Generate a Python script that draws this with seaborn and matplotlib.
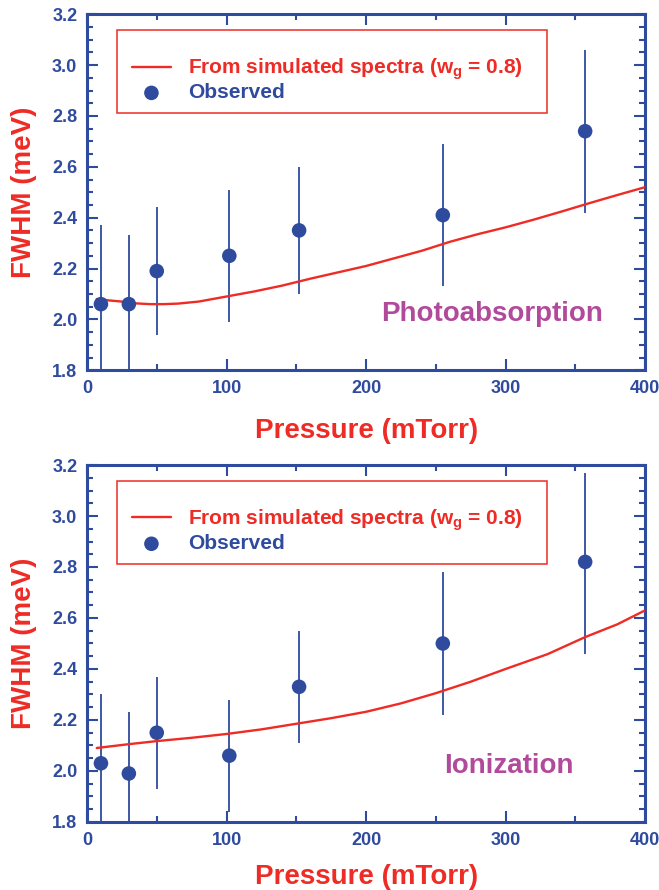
import matplotlib
matplotlib.use("Agg")
import matplotlib.pyplot as plt
import seaborn as sns
import pandas as pd
from matplotlib.patches import Rectangle
from matplotlib.ticker import MultipleLocator, FormatStrFormatter

# observed pressures (mTorr)
pressure = [10, 30, 50, 102, 152, 255, 357]

# photoabsorption panel
photo_fwhm = [2.06, 2.06, 2.19, 2.25, 2.35, 2.41, 2.74]
photo_low = [1.75, 1.75, 1.94, 1.99, 2.10, 2.13, 2.42]
photo_high = [2.37, 2.33, 2.44, 2.51, 2.60, 2.69, 3.06]
photo_curve_x = [7, 15, 25, 35, 45, 55, 65, 80, 100, 120, 140, 160, 180,
                 200, 220, 240, 260, 280, 300, 320, 340, 360, 380, 400]
photo_curve_y = [2.08, 2.075, 2.07, 2.063, 2.06, 2.06, 2.062, 2.07, 2.09,
                 2.11, 2.133, 2.16, 2.185, 2.21, 2.24, 2.27, 2.305, 2.335,
                 2.362, 2.392, 2.424, 2.457, 2.489, 2.52]

# ionization panel
ion_fwhm = [2.03, 1.99, 2.15, 2.06, 2.33, 2.50, 2.82]
ion_low = [1.75, 1.75, 1.93, 1.84, 2.11, 2.22, 2.46]
ion_high = [2.30, 2.23, 2.37, 2.28, 2.55, 2.78, 3.17]
ion_curve_x = [7, 30, 50, 75, 100, 125, 150, 175, 200, 225, 250, 275, 300,
               330, 357, 380, 400]
ion_curve_y = [2.09, 2.105, 2.117, 2.13, 2.145, 2.163, 2.185, 2.207, 2.232,
               2.265, 2.305, 2.35, 2.40, 2.458, 2.525, 2.575, 2.63]

BLUE = "#2f4b9e"
RED = "#ee2b25"
MAGENTA = "#b24a9c"

sns.set_theme(style="ticks")
plt.rcParams["font.family"] = ["Liberation Sans", "DejaVu Sans"]
plt.rcParams["font.weight"] = "bold"
plt.rcParams["mathtext.fontset"] = "custom"
plt.rcParams["mathtext.rm"] = "Liberation Sans:bold"
plt.rcParams["mathtext.default"] = "rm"

fig = plt.figure(figsize=(6.59, 8.9), dpi=100)
ax_top = fig.add_axes([0.132, 0.584, 0.847, 0.400])
ax_bot = fig.add_axes([0.132, 0.0765, 0.847, 0.401])


def draw_panel(ax, fwhm, low, high, cx, cy, label, label_x, xpad):
    curve = pd.DataFrame({"x": cx, "y": cy})
    obs = pd.DataFrame({"x": pressure, "y": fwhm})

    ax.vlines(pressure, low, high, color=BLUE, linewidth=1.3, zorder=2)
    sns.lineplot(data=curve, x="x", y="y", ax=ax, color=RED, linewidth=1.7,
                 label="From simulated spectra (w$_{g}$ = 0.8)", zorder=3)
    sns.scatterplot(data=obs, x="x", y="y", ax=ax, color=BLUE, s=110,
                    edgecolor="none", label="Observed", zorder=4)

    ax.set_xlim(0, 400)
    ax.set_ylim(1.8, 3.2)
    ax.xaxis.set_major_locator(MultipleLocator(100))
    ax.xaxis.set_minor_locator(MultipleLocator(50))
    ax.yaxis.set_major_locator(MultipleLocator(0.2))
    ax.yaxis.set_minor_locator(MultipleLocator(0.05))
    ax.yaxis.set_major_formatter(FormatStrFormatter("%.1f"))

    ax.tick_params(which="both", direction="in", top=True, right=True,
                   colors=BLUE, labelsize=13, width=1.5)
    ax.tick_params(which="major", length=8, pad=7)
    ax.tick_params(which="minor", length=4)
    for s in ax.spines.values():
        s.set_color(BLUE)
        s.set_linewidth(2.2)

    ax.set_xlabel("Pressure (mTorr)", color=RED, fontsize=20,
                  fontweight="bold", labelpad=xpad)
    ax.set_ylabel("FWHM (meV)", color=RED, fontsize=20,
                  fontweight="bold", labelpad=11)

    # legend box drawn separately so it can be taller than its entries
    ax.add_patch(Rectangle((0.054, 0.722), 0.77, 0.233, transform=ax.transAxes,
                           fill=False, edgecolor=RED, linewidth=1.1, zorder=5))
    ax.legend(loc="upper left", bbox_to_anchor=(0.08, 0.881), fontsize=15,
              frameon=False, labelcolor=[RED, BLUE], borderpad=0,
              borderaxespad=0, handlelength=1.9, handletextpad=0.8,
              labelspacing=0.06, markerscale=1.0)

    ax.text(label_x, 2.02, label, color=MAGENTA, fontsize=20,
            fontweight="bold", va="center", ha="left")


draw_panel(ax_top, photo_fwhm, photo_low, photo_high,
           photo_curve_x, photo_curve_y, "Photoabsorption", 211, 15)
draw_panel(ax_bot, ion_fwhm, ion_low, ion_high,
           ion_curve_x, ion_curve_y, "Ionization", 256, 11)

fig.savefig("out.png", dpi=100)
